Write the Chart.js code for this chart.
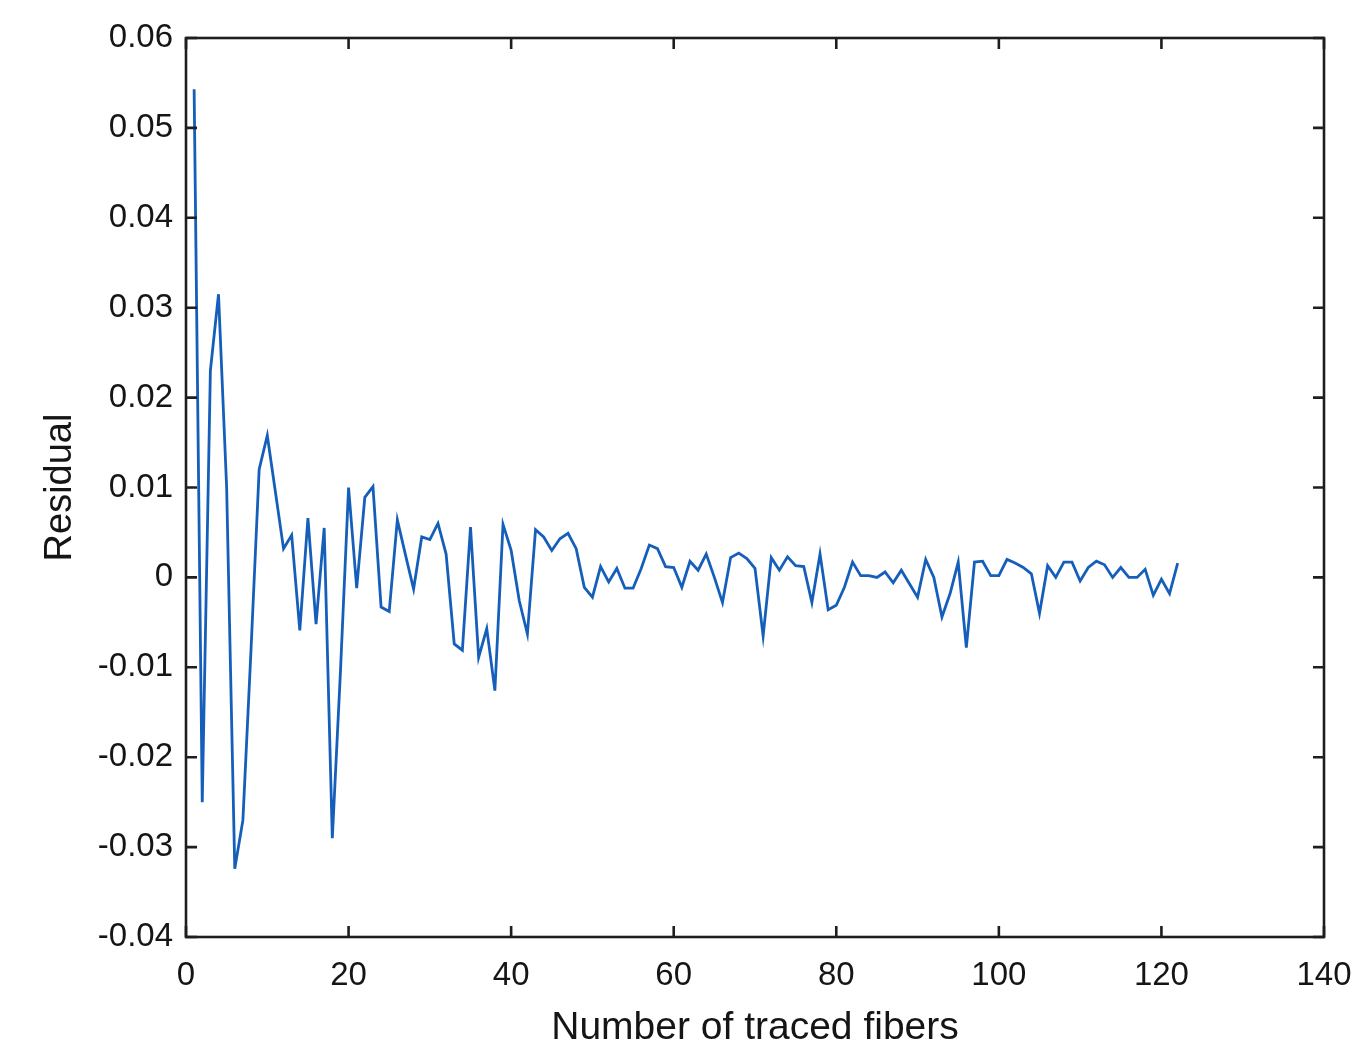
<!DOCTYPE html>
<html>
<head>
<meta charset="utf-8">
<script src="https://cdn.jsdelivr.net/npm/chart.js@4"></script>
<style>
html, body { margin: 0; padding: 0; background: #fff; }
</style>
</head>
<body>
<canvas id="myChart" width="1364" height="1055"></canvas>
<script>
// residual for each number of traced fibers (1..122)
const residual = [
    0.0543, -0.025, 0.023, 0.0315, 0.010, -0.0324, -0.027, -0.008, 0.012, 0.0158,
    0.0095, 0.0032, 0.0047, -0.0059, 0.0066, -0.0052, 0.0055, -0.029, -0.0105, 0.0100,
    -0.0012, 0.0089, 0.0101, -0.0033, -0.0038, 0.0064, 0.0025, -0.0013, 0.0045, 0.0042,
    0.0060, 0.0026, -0.0074, -0.0081, 0.0056, -0.0089, -0.0057, -0.0126, 0.0059, 0.0030,
    -0.0026, -0.0063, 0.0053, 0.0045, 0.0030, 0.0043, 0.0049, 0.0032, -0.0011, -0.0022,
    0.0012, -0.0005, 0.0010, -0.0012, -0.0012, 0.0010, 0.0036, 0.0032, 0.0012, 0.0011,
    -0.0011, 0.0018, 0.0008, 0.0026, 0.0000, -0.0028, 0.0022, 0.0027, 0.0021, 0.0010,
    -0.0065, 0.0022, 0.0008, 0.0023, 0.0013, 0.0012, -0.0028, 0.0026, -0.0036, -0.0031,
    -0.0011, 0.0017, 0.0002, 0.0002, 0.0000, 0.0006, -0.0006, 0.0008, -0.0007, -0.0022,
    0.0020, 0.0000, -0.0044, -0.0018, 0.0017, -0.0078, 0.0017, 0.0018, 0.0002, 0.0002,
    0.0020, 0.0016, 0.0011, 0.0004, -0.0040, 0.0013, 0.0000, 0.0017, 0.0017, -0.0004,
    0.0011, 0.0018, 0.0014, 0.0000, 0.0011, 0.0000, 0.0000, 0.0009, -0.0020, -0.0002,
    -0.0018, 0.0016
]
const xTicks = [0, 20, 40, 60, 80, 100, 120, 140]
const yTicks = [-0.04, -0.03, -0.02, -0.01, 0, 0.01, 0.02, 0.03, 0.04, 0.05, 0.06]

const fontFamily = '"Liberation Sans", Arial, sans-serif'
const axisColor = '#1e1e1e'
const textColor = '#151515'

// MATLAB-like box with inward ticks on all sides
const boxPlugin = {
    id: 'box',
    afterDatasetsDraw(chart) {
        const { ctx, chartArea: a, scales } = chart
        const len = 11
        ctx.save()
        ctx.strokeStyle = axisColor
        ctx.lineWidth = 2.6
        ctx.beginPath()
        xTicks.forEach(v => {
            const px = scales.x.getPixelForValue(v)
            ctx.moveTo(px, a.bottom); ctx.lineTo(px, a.bottom - len)
            ctx.moveTo(px, a.top); ctx.lineTo(px, a.top + len)
        })
        yTicks.forEach(v => {
            const py = scales.y.getPixelForValue(v)
            ctx.moveTo(a.left, py); ctx.lineTo(a.left + len, py)
            ctx.moveTo(a.right, py); ctx.lineTo(a.right - len, py)
        })
        ctx.stroke()
        ctx.strokeRect(a.left, a.top, a.right - a.left, a.bottom - a.top)
        ctx.restore()
    }
}

const ctx = document.getElementById('myChart')
const residualChart = new Chart(ctx, {
    type: 'line',
    data: {
        datasets: [{
            label: 'Residual',
            data: residual.map((r, i) => ({ x: i + 1, y: r })),
            borderColor: '#155fbb',
            borderWidth: 2.8,
            pointRadius: 0,
            tension: 0,
            fill: false,
        }]
    },
    options: {
        responsive: false,
        animation: false,
        devicePixelRatio: 1,
        layout: { padding: { left: 36, top: 38, right: 40, bottom: 0 } },
        plugins: {
            legend: { display: false },
            tooltip: { enabled: false },
        },
        scales: {
            x: {
                type: 'linear',
                min: 0,
                max: 140,
                afterFit: (scale) => { scale.height = 118 },
                afterBuildTicks: (scale) => { scale.ticks = xTicks.map(v => ({ value: v })) },
                grid: { display: false },
                border: { display: false },
                ticks: {
                    padding: 11,
                    color: textColor,
                    font: { family: fontFamily, size: 33 },
                    callback: (v) => String(v),
                },
                title: {
                    display: true,
                    text: 'Number of traced fibers',
                    color: textColor,
                    font: { family: fontFamily, size: 39 },
                    padding: { top: 0, bottom: 3 },
                },
            },
            y: {
                type: 'linear',
                min: -0.04,
                max: 0.06,
                afterFit: (scale) => { scale.width = 150 },
                afterBuildTicks: (scale) => { scale.ticks = yTicks.map(v => ({ value: v })) },
                grid: { display: false },
                border: { display: false },
                ticks: {
                    padding: 5,
                    color: textColor,
                    font: { family: fontFamily, size: 33 },
                    callback: (v) => {
                        const s = Math.round(v * 100) / 100
                        return s === 0 ? '0' : s.toFixed(2)
                    },
                },
                title: {
                    display: true,
                    text: 'Residual',
                    color: textColor,
                    font: { family: fontFamily, size: 38 },
                    padding: { top: 2, bottom: 0 },
                },
            },
        },
    },
    plugins: [boxPlugin],
})
</script>
</body>
</html>
